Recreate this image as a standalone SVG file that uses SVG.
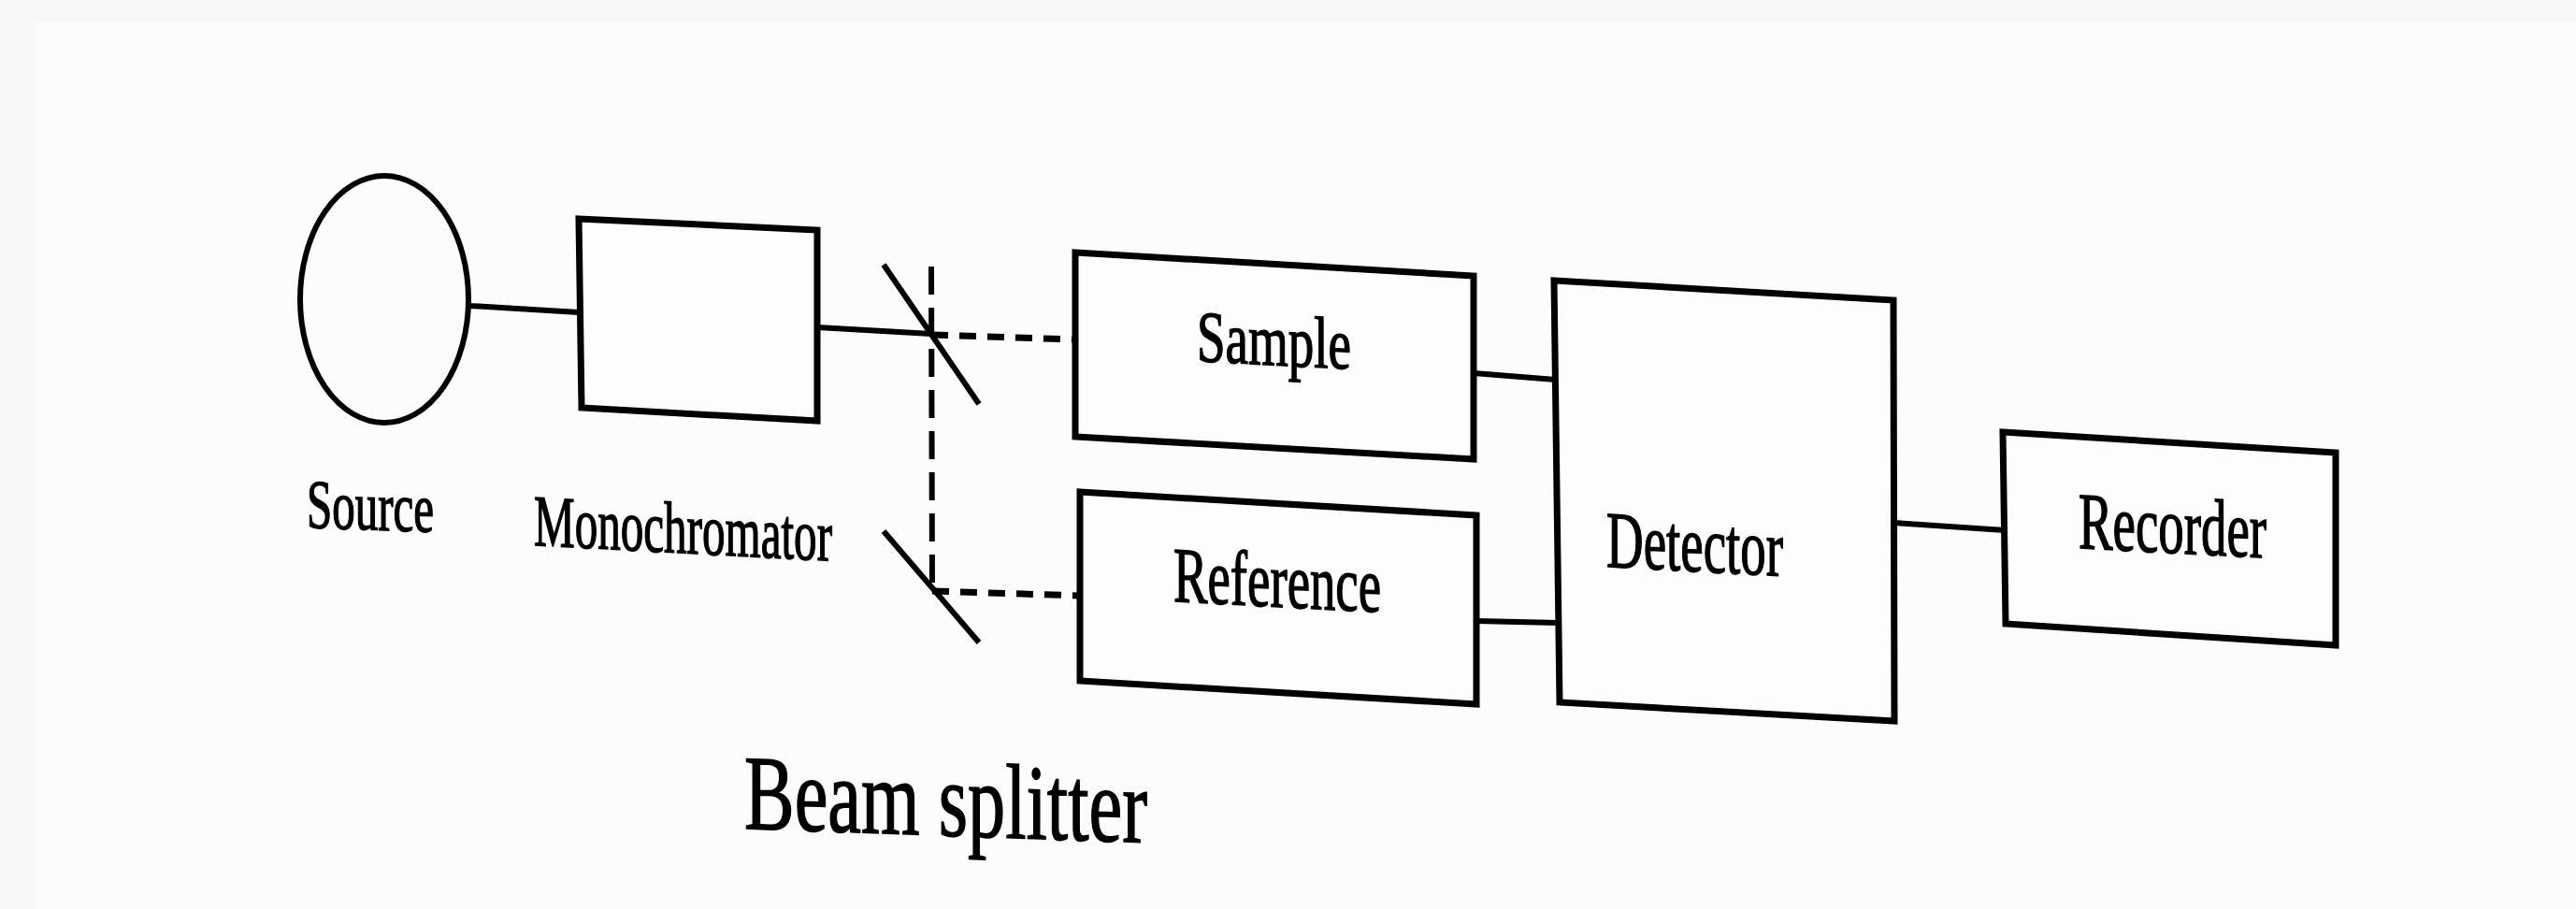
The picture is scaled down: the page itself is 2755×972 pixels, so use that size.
<svg xmlns="http://www.w3.org/2000/svg" width="2755" height="972" viewBox="0 0 2755 972">
<style>
.box{fill:#fdfdfd;stroke:#000;stroke-width:7;stroke-linejoin:miter}
.ln{fill:none;stroke:#000;stroke-width:6}
.dh{fill:none;stroke:#000;stroke-width:7;stroke-dasharray:18 12}
.dv{fill:none;stroke:#000;stroke-width:6;stroke-dasharray:30 14}
.lbl{font-family:"Liberation Serif","Times New Roman",serif;fill:#000;stroke:#000;stroke-width:1.5}
</style>
<rect x="0" y="0" width="2755" height="972" fill="#fcfcfc"/>
<rect x="0" y="0" width="2755" height="24" fill="#f7f7f7"/>
<rect x="0" y="24" width="36" height="948" fill="#f9f9f9"/>

<g id="connectors">
  <line class="ln" x1="502" y1="327" x2="619" y2="334"/>
  <line class="ln" x1="874" y1="350" x2="996" y2="357"/>
  <line class="dh" x1="996" y1="358" x2="1150" y2="363"/>
  <line class="dv" x1="996" y1="285" x2="997" y2="630"/>
  <line class="dh" x1="997" y1="632" x2="1155" y2="637"/>
  <line class="ln" x1="1576" y1="399" x2="1664" y2="406"/>
  <line class="ln" x1="1579" y1="664" x2="1667" y2="666"/>
  <line class="ln" x1="2025" y1="559" x2="2144" y2="567"/>
</g>

<g id="source">
  <ellipse cx="411" cy="320" rx="90" ry="132" fill="none" stroke="#000" stroke-width="6"/>
  <text class="lbl" font-size="74" transform="translate(328,564) skewY(2)" textLength="136" lengthAdjust="spacingAndGlyphs">Source</text>
</g>

<g id="monochromator">
  <polygon class="box" points="619,234 874,246 874,450 622,436"/>
  <text class="lbl" font-size="78" transform="translate(571,583) skewY(3)" textLength="319" lengthAdjust="spacingAndGlyphs">Monochromator</text>
</g>

<g id="beam-splitter">
  <line class="ln" x1="945" y1="283" x2="1047" y2="432"/>
  <line class="ln" x1="945" y1="568" x2="1047" y2="687"/>
  <text class="lbl" font-size="114" transform="translate(796,886) skewY(2)" textLength="431" lengthAdjust="spacingAndGlyphs">Beam splitter</text>
</g>

<g id="sample">
  <polygon class="box" points="1150,270 1576,295 1576,491 1150,467"/>
  <text class="lbl" font-size="78" transform="translate(1280,386) skewY(3)" textLength="165" lengthAdjust="spacingAndGlyphs">Sample</text>
</g>

<g id="reference">
  <polygon class="box" points="1155,526 1579,551 1579,753 1155,728"/>
  <text class="lbl" font-size="84" transform="translate(1255,643) skewY(3)" textLength="222" lengthAdjust="spacingAndGlyphs">Reference</text>
</g>

<g id="detector">
  <polygon class="box" points="1662,300 2025,321 2026,771 1668,751"/>
  <text class="lbl" font-size="86" transform="translate(1718,606) skewY(3)" textLength="189" lengthAdjust="spacingAndGlyphs">Detector</text>
</g>

<g id="recorder">
  <polygon class="box" points="2142,462 2498,484 2498,690 2145,667"/>
  <text class="lbl" font-size="86" transform="translate(2223,586) skewY(3)" textLength="201" lengthAdjust="spacingAndGlyphs">Recorder</text>
</g>
</svg>
